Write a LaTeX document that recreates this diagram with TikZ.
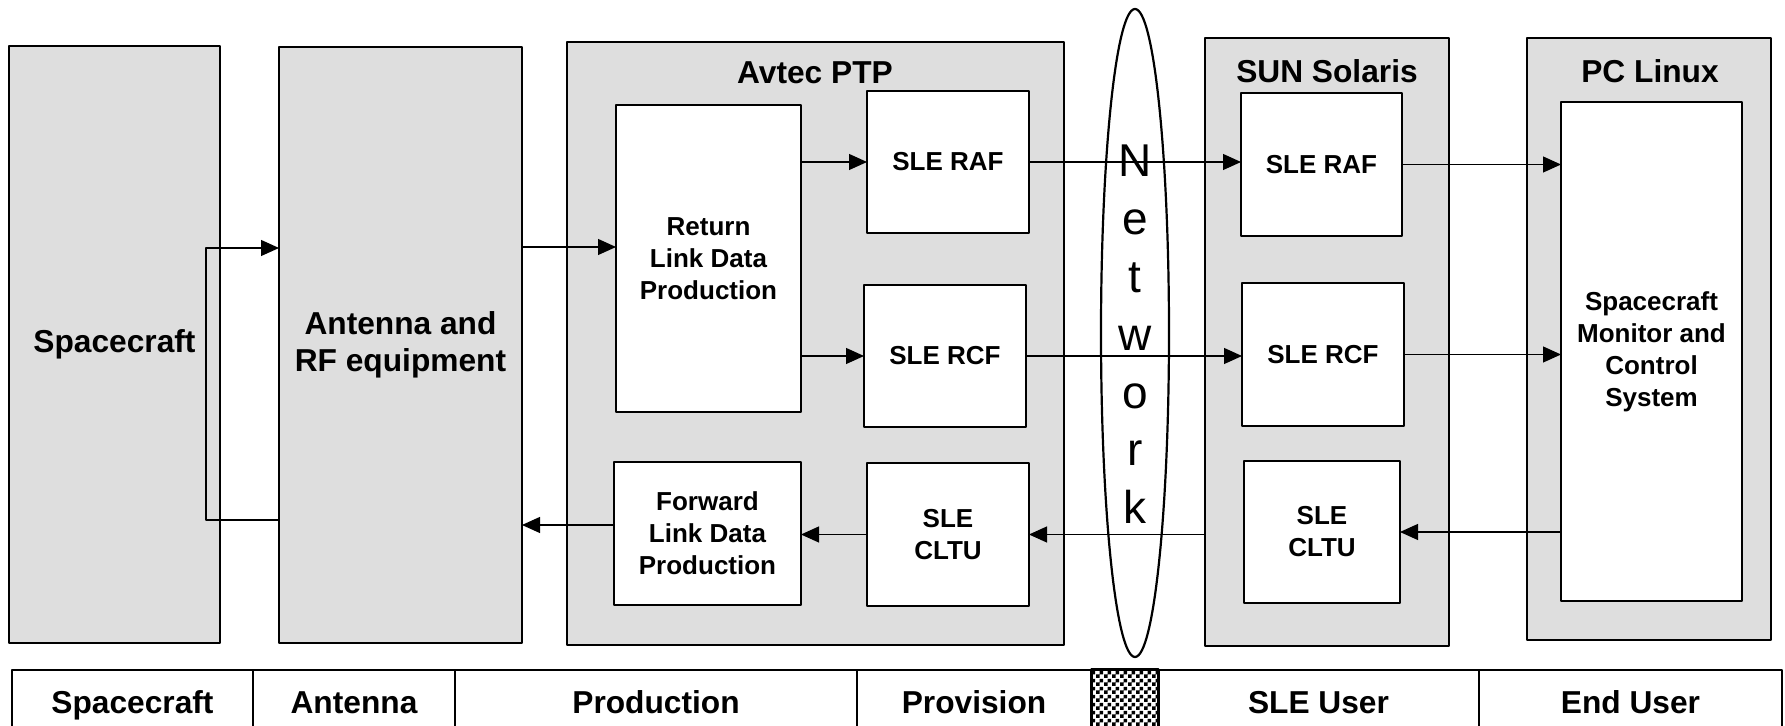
\documentclass[tikz,border=0pt]{standalone}
\usepackage{fontspec}
\setmainfont{Liberation Sans}
\usetikzlibrary{arrows.meta,patterns,shapes.geometric}
\pgfdeclarepatternformonly{finechecker}{\pgfpointorigin}{\pgfqpoint{4pt}{4pt}}{\pgfqpoint{4pt}{4pt}}{%
	\pgfpathrectangle{\pgfpointorigin}{\pgfqpoint{2pt}{2pt}}%
	\pgfpathrectangle{\pgfqpoint{2pt}{2pt}}{\pgfqpoint{2pt}{2pt}}%
	\pgfusepath{fill}}
\begin{document}
\begin{tikzpicture}[x=0.5pt, y=-0.5pt, line join=round, >={Triangle[length=9pt,width=8pt]},
	grp/.style={draw, line width=1.1pt, fill=\panel, inner sep=0pt, outer sep=0pt, align=center, font=\fontsize{15.85}{18.5}\selectfont\bfseries},
	blk/.style={draw, line width=1.1pt, fill=white, inner sep=0pt, outer sep=0pt, align=center, font=\fontsize{13}{16}\selectfont\bfseries},
	ttl/.style={inner sep=0pt, font=\fontsize{15.85}{18.5}\selectfont\bfseries},
	netl/.style={anchor=base, inner sep=0pt, font=\fontsize{23}{27}\selectfont},
	cell/.style={draw, line width=0.8pt, minimum height=37pt, text height=11.4pt, text depth=5pt, inner sep=0pt, outer sep=0pt, font=\fontsize{15.85}{18.5}\selectfont\bfseries},
	lnk/.style={->, line width=0.6pt}]
	\useasboundingbox (0,0) rectangle (1785,726);
	\def\panel{black!13}
	% panels
	\node[grp, minimum width=105.5pt, minimum height=298.5pt] (sc) at (114.5,344.5) {Spacecraft};
	\node[grp, minimum width=121.5pt, minimum height=298pt] (ant) at (400.5,345) {Antenna and\\RF equipment};
	\node[grp, minimum width=248.5pt, minimum height=301.5pt] (avtec) at (815.5,343.5) {};
	\node[grp, minimum width=122pt, minimum height=304pt] (sun) at (1327,342) {};
	\node[grp, minimum width=122pt, minimum height=301pt] (pc) at (1649,339) {};
	\node[ttl] (avtecl) at (815,73) {Avtec PTP};
	\node[ttl] (sunl) at (1327,71) {SUN Solaris};
	\node[ttl] (pcl) at (1650,71) {PC Linux};
	% network
	\node[draw, ellipse, line width=1.1pt, minimum width=34pt, minimum height=324pt, inner sep=0pt] (net) at (1135,333) {};
	% blocks
	\node[blk, minimum width=92.5pt, minimum height=153.5pt] (rldp) at (708.5,258.5) {Return\\Link Data\\Production};
	\node[blk, minimum width=81pt, minimum height=71pt] (raf1) at (948,162) {SLE RAF};
	\node[blk, minimum width=81pt, minimum height=71pt] (rcf1) at (945,356) {SLE RCF};
	\node[blk, minimum width=81pt, minimum height=71.5pt] (cltu1) at (948,534.5) {SLE\\CLTU};
	\node[blk, minimum width=93.5pt, minimum height=71.5pt] (fldp) at (707.5,533.5) {Forward\\Link Data\\Production};
	\node[blk, minimum width=80.5pt, minimum height=71.5pt] (raf2) at (1321.5,164.5) {SLE RAF};
	\node[blk, minimum width=81pt, minimum height=71.5pt] (rcf2) at (1323,354.5) {SLE RCF};
	\node[blk, minimum width=78pt, minimum height=71pt] (cltu2) at (1322,532) {SLE\\CLTU};
	\node[blk, minimum width=90.5pt, minimum height=249.5pt] (mcs) at (1651.5,351.5) {Spacecraft\\Monitor and\\Control\\System};
	% links
	\draw[lnk] (ant.east |- 0,247) -- (rldp.west |- 0,247);
	\draw[lnk] (rldp.east |- raf1.west) -- (raf1.west);
	\draw[lnk] (rldp.east |- rcf1.west) -- (rcf1.west);
	\draw[lnk] (raf1.east) -- (raf1.east -| raf2.west);
	\draw[lnk] (rcf1.east) -- (rcf1.east -| rcf2.west);
	\draw[lnk] (raf2.east) -- (raf2.east -| mcs.west);
	\draw[lnk] (rcf2.east) -- (rcf2.east -| mcs.west);
	\draw[lnk] (mcs.west |- cltu2.east) -- (cltu2.east);
	\draw[lnk] (sun.west |- cltu1.east) -- (cltu1.east);
	\draw[lnk] (cltu1.west) -- (cltu1.west -| fldp.east);
	\draw[lnk] (fldp.west |- 0,525) -- (ant.east |- 0,525);
	\draw[lnk] (ant.west |- 0,520) -| (206,248) -- (ant.west |- 0,248);
	\foreach \c [count=\i] in {N,e,t,w,o,r,k}
		\node[netl] (net\i) at (1135,{177+57.8*(\i-1)}) {\c};
	% bottom table
	\node[cell, minimum width=120.5pt] (tsc) at (132.5,707) {Spacecraft};
	\node[cell, minimum width=101pt] (tant) at (354,707) {Antenna};
	\node[cell, minimum width=201pt] (tprod) at (656,707) {Production};
	\node[cell, minimum width=117pt] (tprov) at (974,707) {Provision};
	\node[cell, minimum width=33.5pt, line width=1.5pt, pattern=finechecker] (tnet) at (1124.5,707) {};
	\node[cell, minimum width=160.5pt] (tsle) at (1318.5,707) {SLE User};
	\node[cell, minimum width=151.5pt] (tend) at (1630.5,707) {End User};
\end{tikzpicture}
\end{document}
